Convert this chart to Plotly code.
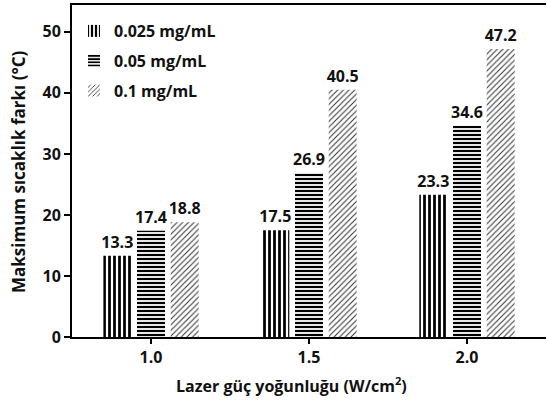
import plotly.graph_objects as go

# Laser power density categories (W/cm²)
power_density = ["1.0", "1.5", "2.0"]

# Maximum temperature difference (°C) for each concentration
conc_0025 = [13.3, 17.5, 23.3]
conc_005 = [17.4, 26.9, 34.6]
conc_01 = [18.8, 40.5, 47.2]

series_names = ["0.025 mg/mL", "0.05 mg/mL", "0.1 mg/mL"]

FONT = "Open Sans"
INK = "#111111"

patterns = [
    dict(shape="|", size=5, solidity=0.55, fgcolor="black", bgcolor="white", fgopacity=1),
    dict(shape="-", size=4, solidity=0.55, fgcolor="black", bgcolor="white", fgopacity=1),
    dict(shape="/", size=4, solidity=0.28, fgcolor="#3a3a3a", bgcolor="white", fgopacity=1),
]

fig = go.Figure()
for i, (name, vals) in enumerate(zip(series_names, [conc_0025, conc_005, conc_01])):
    fig.add_trace(go.Bar(
        x=power_density,
        y=vals,
        name=name,
        legendgroup=name,
        marker=dict(color="white", pattern=patterns[i], line=dict(width=0)),
        text=[f"{v:.1f}" for v in vals],
        textposition="outside",
        constraintext="none",
        cliponaxis=False,
        textfont=dict(family=FONT, size=16, color=INK, weight="bold"),
    ))

plot_w = 547 - 72 - 1
plot_h = 408 - 5 - 71

fig.update_layout(
    width=547,
    height=408,
    margin=dict(l=72, r=1, t=5, b=71),
    paper_bgcolor="white",
    plot_bgcolor="white",
    barmode="group",
    bargap=0.36,
    bargroupgap=0.17,
    font=dict(family=FONT, color=INK, size=14),
    uniformtext=dict(mode=False),
    showlegend=True,
    legend=dict(
        x=2 / plot_w, y=1 - 9 / plot_h, xanchor="left", yanchor="top",
        bgcolor="rgba(0,0,0,0)",
        font=dict(family=FONT, size=16, color=INK, weight="bold"),
        tracegroupgap=6,
        itemwidth=30,
    ),
    annotations=[
        dict(
            text="Lazer güç yoğunluğu (W/cm<sup>2</sup>)",
            xref="paper", yref="paper",
            x=(291 - 72) / plot_w, y=-(385 - 337) / plot_h,
            xanchor="center", yanchor="middle",
            showarrow=False,
            font=dict(family=FONT, size=16, color=INK, weight="bold"),
        ),
        dict(
            text="Maksimum sıcaklık farkı (°C)",
            xref="paper", yref="paper",
            x=(18 - 72) / plot_w, y=(337 - 172) / plot_h,
            xanchor="center", yanchor="middle",
            textangle=-90,
            showarrow=False,
            font=dict(family=FONT, size=17, color=INK, weight="bold"),
        ),
    ],
)

fig.update_xaxes(
    type="category",
    showline=True, linecolor="black", linewidth=2, mirror=True,
    ticks="outside", ticklen=5, tickwidth=2, tickcolor="black",
    tickfont=dict(family=FONT, size=16, color=INK, weight="bold"),
    showgrid=False,
)

fig.update_yaxes(
    range=[0, 54.4],
    dtick=10,
    showline=True, linecolor="black", linewidth=2, mirror=False,
    ticks="outside", ticklen=6, tickwidth=2, tickcolor="black",
    tickfont=dict(family=FONT, size=16, color=INK, weight="bold"),
    showgrid=False, zeroline=False,
)

fig.write_html("out.html")
